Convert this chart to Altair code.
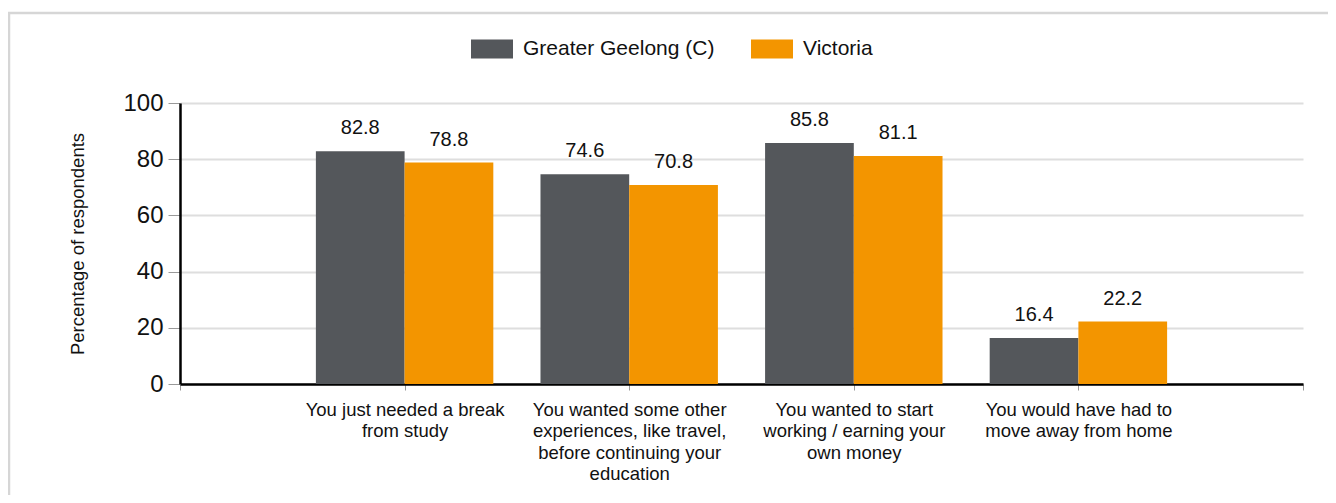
import json
import altair as alt
import pandas as pd

# ---- data ----
categories = [
    "You just needed a break|from study",
    "You wanted some other|experiences, like travel,|before continuing your|education",
    "You wanted to start|working / earning your|own money",
    "You would have had to|move away from home",
]
series_names = ["Greater Geelong (C)", "Victoria"]
geelong = [82.8, 74.6, 85.8, 16.4]
victoria = [78.8, 70.8, 81.1, 22.2]
y_ticks = [0, 20, 40, 60, 80, 100]

colors = ["#54575b", "#f39500"]
FONT = "Liberation Sans"
BAR_W = 0.395  # bar width in category units

rows = []
for i, c in enumerate(categories):
    rows.append({"idx": i + 1, "category": c, "series": series_names[0], "value": geelong[i]})
    rows.append({"idx": i + 1, "category": c, "series": series_names[1], "value": victoria[i]})
df = pd.DataFrame(rows)

label_arr = "[" + ",".join(json.dumps(c) for c in categories) + "]"
label_expr = (
    f"datum.value >= 1 && datum.value <= {len(categories)} ? "
    f"split({label_arr}[datum.value - 1], '|') : ''"
)

W, H = 1123, 281

base = alt.Chart(df).transform_calculate(
    x0=f"datum.series == '{series_names[0]}' ? datum.idx - {BAR_W} : datum.idx",
    x1=f"datum.series == '{series_names[0]}' ? datum.idx : datum.idx + {BAR_W}",
    xc=f"datum.series == '{series_names[0]}' ? datum.idx - {BAR_W / 2} : datum.idx + {BAR_W / 2}",
)

x_scale = alt.Scale(domain=[0, len(categories) + 1], nice=False, zero=False)
y_scale = alt.Scale(domain=[0, 100], nice=False)

bars = base.mark_bar().encode(
    x=alt.X(
        "x0:Q",
        scale=x_scale,
        title=None,
        axis=alt.Axis(
            values=list(range(0, len(categories) + 2)),
            labelExpr=label_expr,
            grid=False,
            domainColor="#000000",
            domainWidth=2.5,
            tickColor="#999999",
            tickSize=6,
            tickWidth=1,
            labelFont=FONT,
            labelFontSize=18.5,
            labelColor="#111111",
            labelLineHeight=21.5,
            labelPadding=10,
            labelLimit=400,
            labelOverlap=False,
            labelFlush=False,
            labelBound=False,
        ),
    ),
    x2="x1:Q",
    y=alt.Y(
        "value:Q",
        scale=y_scale,
        title="Percentage of respondents",
        axis=alt.Axis(
            values=y_ticks,
            grid=True,
            gridColor="#dedede",
            gridWidth=2,
            domainColor="#000000",
            domainWidth=2.5,
            tickColor="#999999",
            tickSize=12,
            tickWidth=1,
            labelFont=FONT,
            labelFontSize=24,
            labelColor="#111111",
            labelPadding=5,
            titleFont=FONT,
            titleFontSize=18.5,
            titleFontWeight="normal",
            titleColor="#111111",
            titlePadding=35,
        ),
    ),
    y2=alt.datum(0),
    color=alt.Color(
        "series:N",
        scale=alt.Scale(domain=series_names, range=colors),
        sort=series_names,
        legend=alt.Legend(
            title=None,
            orient="none",
            direction="horizontal",
            legendX=291,
            legendY=-75,
            symbolType="M-1,-0.45L1,-0.45L1,0.45L-1,0.45Z",
            symbolSize=1764,
            symbolStrokeWidth=0,
            symbolOpacity=1,
            labelFont=FONT,
            labelFontSize=21,
            labelColor="#111111",
            labelOffset=10,
            columnPadding=36,
            labelLimit=400,
        ),
    ),
)

labels = base.mark_text(
    font=FONT, fontSize=20, color="#111111", baseline="alphabetic", dy=-17
).encode(
    x=alt.X("xc:Q", scale=x_scale),
    y=alt.Y("value:Q", scale=y_scale),
    text=alt.Text("value:Q", format=".1f"),
)

frame = alt.Chart(pd.DataFrame({"f": [0]})).mark_rect(
    fill="transparent", stroke="#d6d6d6", strokeWidth=2.5
).encode(
    x=alt.value(-171),
    x2=alt.value(W + 60),
    y=alt.value(-90),
    y2=alt.value(H + 200),
)

chart = (
    alt.layer(frame, bars, labels)
    .properties(
        width=W,
        height=H,
        autosize=alt.AutoSizeParams(type="none"),
        padding={"left": 172, "top": 95, "right": 25, "bottom": 111},
    )
    .configure_view(strokeWidth=0)
)

chart.save("out.html", embed_options={"renderer": "svg", "actions": False})
